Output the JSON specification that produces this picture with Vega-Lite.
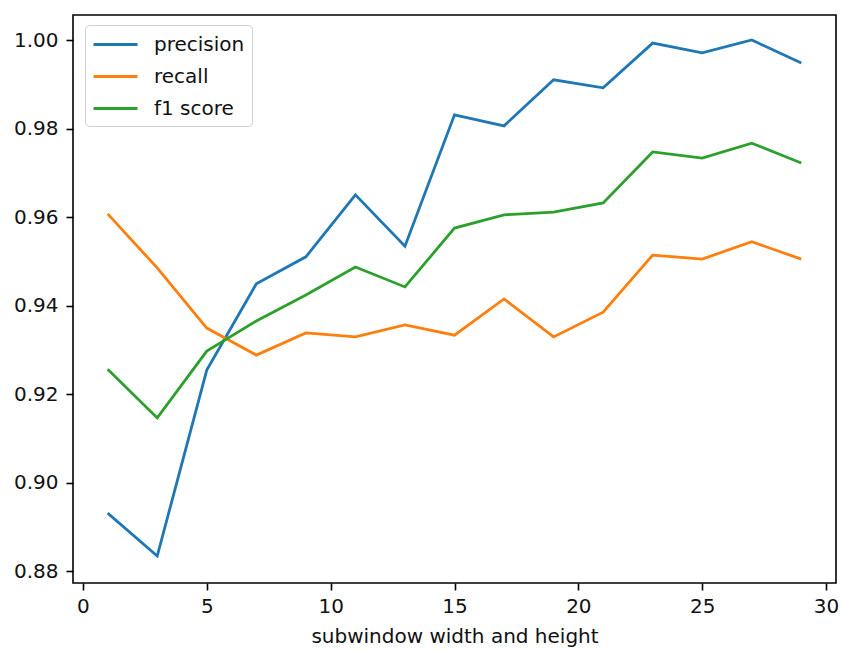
{
  "$schema": "https://vega.github.io/schema/vega-lite/v6.json",
  "width": 763,
  "height": 568,
  "autosize": "none",
  "padding": {"left": 73, "top": 15, "right": 6, "bottom": 67},
  "background": "white",
  "config": {
    "font": "DejaVu Sans",
    "view": {"stroke": "black", "strokeWidth": 1.6},
    "axis": {
      "grid": false,
      "domain": false,
      "tickColor": "black",
      "tickWidth": 1.6,
      "tickSize": 7,
      "labelColor": "#111111",
      "labelFontSize": 20,
      "titleColor": "#111111",
      "titleFontSize": 20,
      "titleFontWeight": "normal"
    }
  },
  "data": {
    "values": [
      {"x": 1, "metric": "precision", "value": 0.8931},
      {"x": 3, "metric": "precision", "value": 0.8834},
      {"x": 5, "metric": "precision", "value": 0.9254},
      {"x": 7, "metric": "precision", "value": 0.9449},
      {"x": 9, "metric": "precision", "value": 0.9510},
      {"x": 11, "metric": "precision", "value": 0.9650},
      {"x": 13, "metric": "precision", "value": 0.9534},
      {"x": 15, "metric": "precision", "value": 0.9831},
      {"x": 17, "metric": "precision", "value": 0.9806},
      {"x": 19, "metric": "precision", "value": 0.9910},
      {"x": 21, "metric": "precision", "value": 0.9892},
      {"x": 23, "metric": "precision", "value": 0.9993},
      {"x": 25, "metric": "precision", "value": 0.9971},
      {"x": 27, "metric": "precision", "value": 1.0000},
      {"x": 29, "metric": "precision", "value": 0.9948},
      {"x": 1, "metric": "recall", "value": 0.9607},
      {"x": 3, "metric": "recall", "value": 0.9485},
      {"x": 5, "metric": "recall", "value": 0.9349},
      {"x": 7, "metric": "recall", "value": 0.9288},
      {"x": 9, "metric": "recall", "value": 0.9338},
      {"x": 11, "metric": "recall", "value": 0.9329},
      {"x": 13, "metric": "recall", "value": 0.9356},
      {"x": 15, "metric": "recall", "value": 0.9333},
      {"x": 17, "metric": "recall", "value": 0.9415},
      {"x": 19, "metric": "recall", "value": 0.9329},
      {"x": 21, "metric": "recall", "value": 0.9385},
      {"x": 23, "metric": "recall", "value": 0.9514},
      {"x": 25, "metric": "recall", "value": 0.9505},
      {"x": 27, "metric": "recall", "value": 0.9544},
      {"x": 29, "metric": "recall", "value": 0.9505},
      {"x": 1, "metric": "f1 score", "value": 0.9256},
      {"x": 3, "metric": "f1 score", "value": 0.9146},
      {"x": 5, "metric": "f1 score", "value": 0.9297},
      {"x": 7, "metric": "f1 score", "value": 0.9365},
      {"x": 9, "metric": "f1 score", "value": 0.9424},
      {"x": 11, "metric": "f1 score", "value": 0.9487},
      {"x": 13, "metric": "f1 score", "value": 0.9442},
      {"x": 15, "metric": "f1 score", "value": 0.9575},
      {"x": 17, "metric": "f1 score", "value": 0.9605},
      {"x": 19, "metric": "f1 score", "value": 0.9611},
      {"x": 21, "metric": "f1 score", "value": 0.9632},
      {"x": 23, "metric": "f1 score", "value": 0.9747},
      {"x": 25, "metric": "f1 score", "value": 0.9733},
      {"x": 27, "metric": "f1 score", "value": 0.9767},
      {"x": 29, "metric": "f1 score", "value": 0.9722}
    ]
  },
  "mark": {"type": "line", "strokeWidth": 2.8, "clip": true},
  "encoding": {
    "x": {
      "field": "x",
      "type": "quantitative",
      "scale": {"domain": [-0.4, 30.4], "nice": false, "zero": false},
      "axis": {"values": [0, 5, 10, 15, 20, 25, 30], "title": "subwindow width and height", "labelPadding": 6, "titlePadding": 10}
    },
    "y": {
      "field": "value",
      "type": "quantitative",
      "scale": {"domain": [0.8773, 1.00565], "nice": false, "zero": false},
      "axis": {"values": [0.88, 0.90, 0.92, 0.94, 0.96, 0.98, 1.00], "format": ".2f", "title": null, "labelPadding": 8}
    },
    "color": {
      "field": "metric",
      "type": "nominal",
      "scale": {"domain": ["precision", "recall", "f1 score"], "range": ["#1f77b4", "#ff7f0e", "#2ca02c"]},
      "legend": {
        "title": null,
        "orient": "none",
        "legendX": 12,
        "legendY": 10,
        "symbolType": "M-1,0H3",
        "symbolSize": 484,
        "symbolStrokeWidth": 2.8,
        "symbolFillColor": "transparent",
        "labelFontSize": 20,
        "labelColor": "#111111",
        "labelOffset": 37,
        "rowPadding": 9,
        "padding": 7,
        "strokeColor": "#d0d0d0",
        "fillColor": "white",
        "cornerRadius": 4
      }
    }
  }
}
